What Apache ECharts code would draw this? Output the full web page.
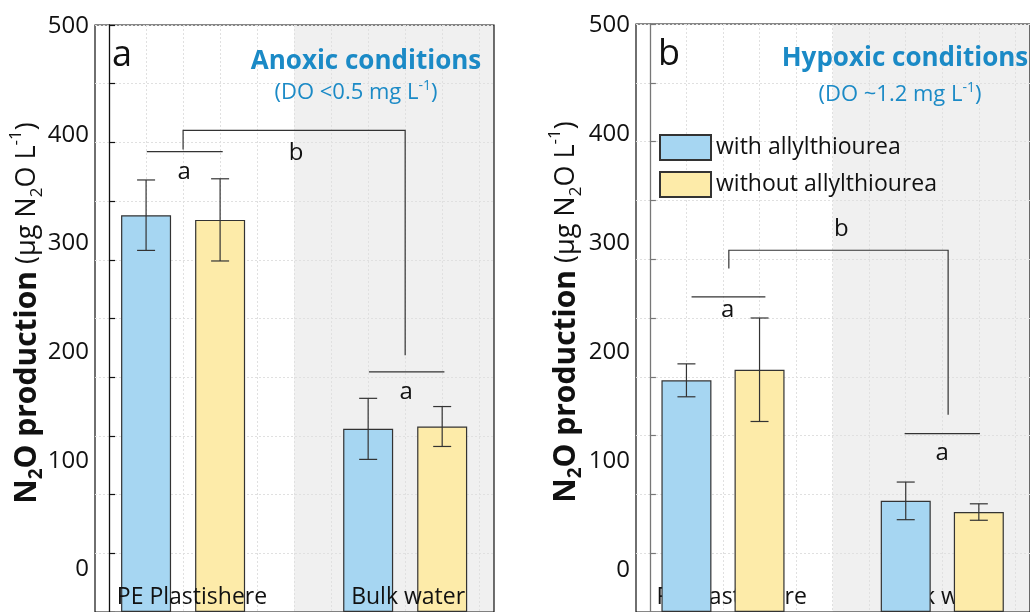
<!DOCTYPE html>
<html>
<head>
<meta charset="utf-8">
<script src="https://cdn.jsdelivr.net/npm/echarts@6/dist/echarts.min.js"></script>
<style>
  html, body { margin: 0; padding: 0; background: #fff; }
  #chart { width: 1030px; height: 612px; }
</style>
</head>
<body>
<div id="chart"></div>
<script>
const categories = ["PE Plastishere", "Bulk water"];
const categoryPos = [2.24, 8.08];
const seriesNames = ["with allylthiourea", "without allylthiourea"];
const yTicks = [0, 100, 200, 300, 400, 500];
const gridSteps = [0, 1, 2, 3, 4, 5, 6, 7, 8, 9, 10];

// x positions of the bars (same in both panels)
const withPos = [1, 7];
const withoutPos = [3, 9];

// panel a - anoxic
const withA = [338, 156];
const withErrA = [30, 26];
const withoutA = [334, 158];
const withoutErrA = [35, 17];

// panel b - hypoxic
const withB = [197, 94.5];
const withErrB = [14, 16];
const withoutB = [206, 85];
const withoutErrB = [44, 7];

// significance brackets and letters
const bracketsA = [
  [[2, 394], [2, 410.2], [8, 410.2], [8, 218.8]],
  [[1.02, 392.2], [3.07, 392.2]],
  [[7.02, 204.5], [9.06, 204.5]]
];
const lettersA = ["a", "b", "a"];
const letterPosA = [[2.03, 374.6], [5.05, 391], [8.03, 187.5]];

const bracketsB = [
  [[2.16, 292], [2.16, 307.6], [8.16, 307.6], [8.16, 167.8]],
  [[1.14, 268], [3.16, 268]],
  [[6.97, 151.6], [9.03, 151.6]]
];
const lettersB = ["a", "b", "a"];
const letterPosB = [[2.13, 256.8], [5.24, 325.7], [8.0, 134.7]];

const FONT = "Open Sans";
const BLUE = "#a6d6f2";
const YELLOW = "#fdeba9";
const TITLE_BLUE = "#1b8ac6";

const chart = echarts.init(document.getElementById("chart"));

const grids = [
  { left: 95, top: 25, width: 399, height: 590 },
  { left: 636, top: 24, width: 399, height: 590 }
];
const labelMin = [-39.2, -38.3];

const gridLine = { show: true, lineStyle: { color: "#e0e0e0", type: [2, 2], width: 1 } };

const xAxes = [];
const yAxes = [];
grids.forEach((g, i) => {
  xAxes.push({
    gridIndex: i, type: "value", min: -0.38, max: 10.4,
    axisLine: { show: false }, axisLabel: { show: false },
    axisTick: { show: false, customValues: gridSteps },
    splitLine: gridLine
  });
  xAxes.push({
    gridIndex: i, type: "value", min: -0.38, max: 10.4, position: "bottom",
    z: i === 0 ? 5 : 1,
    axisLine: { show: false }, axisTick: { show: false }, splitLine: { show: false },
    axisLabel: {
      show: true, inside: true, margin: 3, customValues: categoryPos,
      formatter: (v) => categories[categoryPos.indexOf(v)],
      fontSize: 23, fontFamily: FONT,
      color: (v) => (i === 1 && categoryPos.indexOf(v) === 1 ? "#8a8a8a" : "#111")
    }
  });
  const axisColor = i === 0 ? "#111" : "#777";
  yAxes.push({
    gridIndex: i, type: "value", min: 0, max: 500, interval: 50, position: "left",
    axisLine: { show: true, lineStyle: { color: axisColor, width: 1.3 } },
    axisTick: { show: true, inside: true, length: 6, lineStyle: { color: axisColor, width: 1.2 } },
    axisLabel: { show: false },
    splitLine: gridLine
  });
  yAxes.push({
    gridIndex: i, type: "value", min: labelMin[i], max: 500.9, position: "left",
    axisLine: { show: false }, axisTick: { show: false }, splitLine: { show: false },
    axisLabel: { customValues: yTicks, fontSize: 24, fontFamily: FONT, color: "#111", margin: 6 }
  });
});

function barSeries(name, g, pos, vals, color) {
  return {
    name: name, type: "bar", xAxisIndex: g * 2, yAxisIndex: g * 2,
    data: pos.map((x, i) => [x, vals[i]]),
    barWidth: 50, barGap: "-100%",
    itemStyle: { color: color, borderColor: "#333", borderWidth: 1.2 },
    z: 2
  };
}

function shadeSeries(g) {
  return {
    type: "line", xAxisIndex: g * 2, yAxisIndex: g * 2, data: [], silent: true,
    markArea: {
      silent: true, z: -1,
      itemStyle: { color: "#f0f0f0" },
      data: [[{ xAxis: 5 }, { xAxis: 10.4 }]]
    }
  };
}

function errSeries(g, pos, vals, errs) {
  return {
    type: "custom", xAxisIndex: g * 2, yAxisIndex: g * 2, z: 3, silent: true,
    data: pos.map((x, i) => [x, vals[i] - errs[i], vals[i] + errs[i]]),
    renderItem: (params, api) => {
      const lo = api.coord([api.value(0), api.value(1)]);
      const hi = api.coord([api.value(0), api.value(2)]);
      const w = 9;
      const st = { stroke: "#333", lineWidth: 1.2 };
      return {
        type: "group",
        children: [
          { type: "line", shape: { x1: lo[0], y1: lo[1], x2: hi[0], y2: hi[1] }, style: st },
          { type: "line", shape: { x1: lo[0] - w, y1: lo[1], x2: lo[0] + w, y2: lo[1] }, style: st },
          { type: "line", shape: { x1: hi[0] - w, y1: hi[1], x2: hi[0] + w, y2: hi[1] }, style: st }
        ]
      };
    }
  };
}

function bracketSeries(g, brackets) {
  return {
    type: "custom", xAxisIndex: g * 2, yAxisIndex: g * 2, z: 3, silent: true,
    data: brackets.map((b) => b[0]),
    renderItem: (params, api) => ({
      type: "polyline",
      shape: { points: brackets[params.dataIndex].map((p) => api.coord(p)) },
      style: { stroke: "#333", lineWidth: 1.2, fill: null }
    })
  };
}

function letterSeries(g, pos, letters) {
  return {
    type: "custom", xAxisIndex: g * 2, yAxisIndex: g * 2, z: 3, silent: true,
    data: pos,
    renderItem: (params, api) => {
      const p = api.coord([api.value(0), api.value(1)]);
      return {
        type: "text", x: p[0], y: p[1],
        style: {
          text: letters[params.dataIndex], fontSize: 24, fontFamily: FONT,
          fill: "#111", align: "center", verticalAlign: "middle"
        }
      };
    }
  };
}

const yTitleRich = {
  b: { fontSize: 30, fontWeight: "bold", fontFamily: FONT, fill: "#111", lineHeight: 38 },
  bs: { fontSize: 19, fontWeight: "bold", fontFamily: FONT, fill: "#111", lineHeight: 38, verticalAlign: "bottom" },
  n: { fontSize: 27, fontFamily: FONT, fill: "#111", lineHeight: 38 },
  s: { fontSize: 17, fontFamily: FONT, fill: "#111", lineHeight: 38, verticalAlign: "bottom" },
  sup: { fontSize: 17, fontFamily: FONT, fill: "#111", lineHeight: 38, verticalAlign: "top" }
};
const yTitle = "{b|N}{bs|2}{b|O production}{n| (μg N}{s|2}{n|O L}{sup|-1}{n|)}";

const doRich = {
  n: { fontSize: 22, fontFamily: FONT, fill: TITLE_BLUE, lineHeight: 28 },
  s: { fontSize: 14, fontFamily: FONT, fill: TITLE_BLUE, lineHeight: 28, verticalAlign: "top" }
};

function text(x, y, str, opts) {
  return {
    type: "text", x: x, y: y, z: 10, silent: true,
    style: Object.assign({
      text: str, fontFamily: FONT, fill: "#111", align: "center", verticalAlign: "middle"
    }, opts)
  };
}

const option = {
  animation: false,
  backgroundColor: "#fff",
  grid: grids.map((g) => Object.assign({ show: true, borderColor: "#111", borderWidth: 1.2 }, g)),
  xAxis: xAxes,
  yAxis: yAxes,
  legend: {
    data: seriesNames,
    orient: "vertical", left: 659, top: 134, padding: 0,
    itemWidth: 51, itemHeight: 25, itemGap: 10,
    icon: "rect", selectedMode: false,
    textStyle: { fontSize: 23, fontFamily: FONT, color: "#111" }
  },
  graphic: [
    text(122, 56, "a", { fontSize: 36 }),
    text(669, 55, "b", { fontSize: 36 }),
    text(366, 62, "Anoxic conditions", { fontSize: 26, fontWeight: "bold", fill: TITLE_BLUE }),
    text(356, 93, "{n|(DO <0.5 mg L}{s|-1}{n|)}", { rich: doRich }),
    text(905, 59, "Hypoxic conditions", { fontSize: 26, fontWeight: "bold", fill: TITLE_BLUE }),
    text(900, 95, "{n|(DO ~1.2 mg L}{s|-1}{n|)}", { rich: doRich }),
    Object.assign(text(27, 313, yTitle, { rich: yTitleRich }), { rotation: Math.PI / 2 }),
    Object.assign(text(566, 312, yTitle, { rich: yTitleRich }), { rotation: Math.PI / 2 })
  ],
  series: [
    shadeSeries(0),
    barSeries(seriesNames[0], 0, withPos, withA, BLUE),
    barSeries(seriesNames[1], 0, withoutPos, withoutA, YELLOW),
    errSeries(0, withPos, withA, withErrA),
    errSeries(0, withoutPos, withoutA, withoutErrA),
    bracketSeries(0, bracketsA),
    letterSeries(0, letterPosA, lettersA),
    shadeSeries(1),
    barSeries(seriesNames[0], 1, withPos, withB, BLUE),
    barSeries(seriesNames[1], 1, withoutPos, withoutB, YELLOW),
    errSeries(1, withPos, withB, withErrB),
    errSeries(1, withoutPos, withoutB, withoutErrB),
    bracketSeries(1, bracketsB),
    letterSeries(1, letterPosB, lettersB)
  ]
};

chart.setOption(option);
</script>
</body>
</html>
